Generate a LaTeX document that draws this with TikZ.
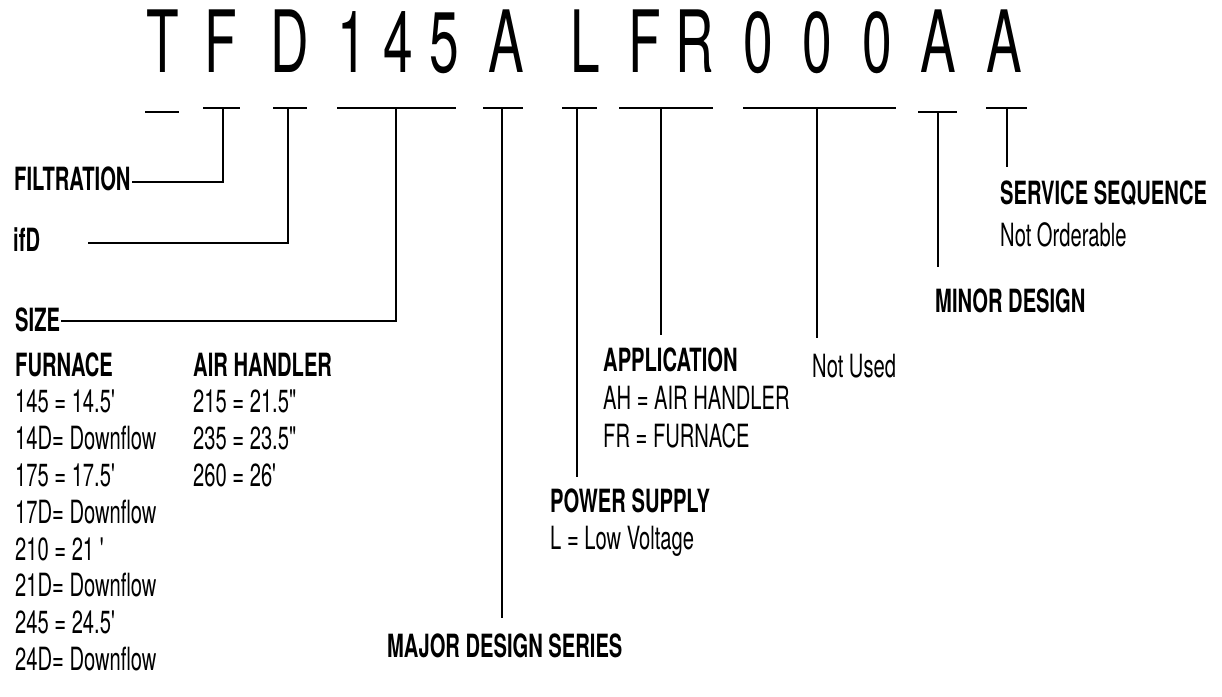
\documentclass[tikz,border=0pt]{standalone}
\usepackage{fontspec}
\newfontfamily\codefont{TeX Gyre Heros}[FakeStretch=0.62]
\newfontfamily\lblfont{TeX Gyre Heros}[FakeStretch=0.63]
\usetikzlibrary{calc}
\tikzset{
  code/.style = {font=\codefont\fontsize{86}{86}\selectfont, inner sep=0pt, anchor=base},
  hd/.style   = {font=\lblfont\bfseries\fontsize{32}{37}\selectfont, inner sep=0pt, anchor=base west},
  txt/.style  = {font=\lblfont\fontsize{32}{37}\selectfont, inner sep=0pt, anchor=base west},
  bar/.style  = {line width=2.6pt},
  lead/.style = {line width=1.8pt},
}
\begin{document}
\begin{tikzpicture}[x=1pt,y=-1pt]
\useasboundingbox (0,0) rectangle (1222,696);
% model number
\foreach \ch/\x [count=\i] in {T/163,F/221,D/290,1/352,4/398,5/444,A/506,L/585,
                               F/645,R/695,0/758,0/817,0/877,A/938,A/1004}
  {\node[code] (c\i) at (\x,72) {\ch};}
% digit bars
\foreach \a/\b/\s/\y [count=\i] in {145/179/162/112,203/240/223/108,273/307/288/108,
    337/456/396/108,483/523/502/108,562/597/577/108,619/713/661/108,
    743/896/817/108,918/957/938/112,986/1027/1007/108}
  {\draw[bar] (\a,\y) -- (\b,\y); \coordinate (t\i) at (\s,\y);}
% left side
\node[hd] (filt) at (14,190) {FILTRATION};
\node[hd] (ifd)  at (13,251) {ifD};
\node[hd] (size) at (15,331) {SIZE};
\coordinate (ifdend) at (88,243);
\draw[lead] (t2) |- ([shift={(1pt,8pt)}]filt.base east);
\draw[lead] (t3) |- (ifdend);
\draw[lead] (t4) |- ([shift={(1pt,10pt)}]size.base east);
% size table
\node[hd] (fur0) at (15,376) {FURNACE};
\foreach \t [count=\i] in {145 = 14.5',14D= Downflow,175 = 17.5',17D= Downflow,
                           210 = 21 ',21D= Downflow,245 = 24.5',24D= Downflow}
  {\node[txt] (fur\i) at (15,{376+36.8*\i}) {\t};}
\node[hd] (air0) at (193,376) {AIR HANDLER};
\foreach \t [count=\i] in {215 = 21.5",235 = 23.5",260 = 26'}
  {\node[txt] (air\i) at (193,{376+36.8*\i}) {\t};}
% right side
\node[hd]  (major)  at (387,657)  {MAJOR DESIGN SERIES};
\node[hd]  (power)  at (550,512)  {POWER SUPPLY};
\node[txt] (power1) at (550,549)  {L = Low Voltage};
\node[hd]  (app)    at (603,371)  {APPLICATION};
\node[txt] (app1)   at (603,409)  {AH = AIR HANDLER};
\node[txt] (app2)   at (603,447)  {FR = FURNACE};
\node[txt] (unused) at (812,377)  {Not Used};
\node[hd]  (minor)  at (935,312)  {MINOR DESIGN};
\node[hd]  (serv)   at (1000,204) {SERVICE SEQUENCE};
\node[txt] (serv1)  at (1000,246) {Not Orderable};
\coordinate (e5)  at (502,618);
\coordinate (e6)  at (577,477);
\coordinate (e7)  at (661,335);
\coordinate (e8)  at (817,338);
\coordinate (e9)  at (938,267);
\coordinate (e10) at (1007,167);
\foreach \i in {5,...,10}
  {\draw[lead] (t\i) -- (e\i);}
\end{tikzpicture}
\end{document}
